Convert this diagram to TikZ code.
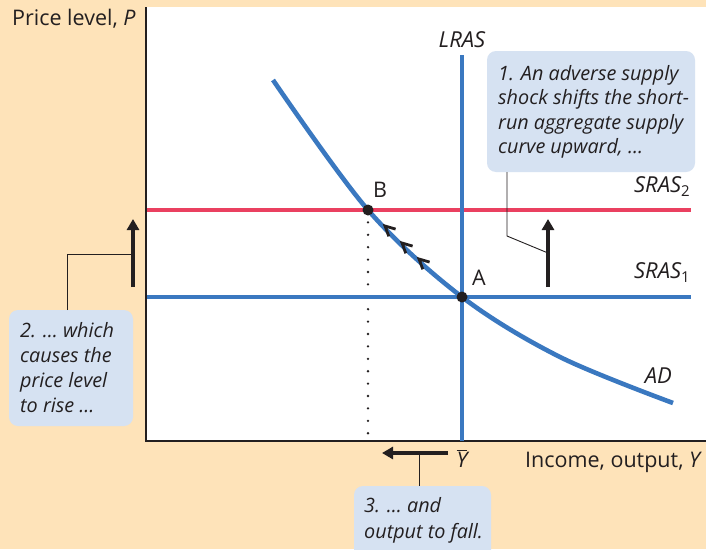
\documentclass[tikz,border=0pt]{standalone}
\usepackage{fontspec}
\setmainfont{Open Sans}
\usetikzlibrary{arrows.meta,calc}
\definecolor{peach}{RGB}{254,227,185}
\definecolor{callblue}{RGB}{214,226,242}
\definecolor{curveblue}{RGB}{58,120,192}
\definecolor{curvered}{RGB}{234,64,96}
\definecolor{ink}{RGB}{35,31,32}
\newcommand{\lowsub}[1]{\raisebox{-4.5pt}{\upshape\fontsize{15}{15}\selectfont #1}}
\tikzset{
  txt/.style={font=\fontsize{21.5}{24}\selectfont, text=ink, inner sep=0pt},
  lbl/.style={txt, font=\fontsize{22}{24}\selectfont\itshape},
  itxt/.style={txt, font=\fontsize{19.8}{24}\selectfont\itshape},
  callout/.style={fill=callblue, draw=none, rounded corners=9pt},
  econline/.style={line width=4.6pt},
  bigarrow/.style={line width=4.4pt, draw=ink, -{Triangle[length=11pt,width=12pt]}},
  leader/.style={line width=0.9pt, draw=ink},
  chev/.style={line width=2.8pt, draw=ink, line join=miter},
  dot/.style={circle, fill=ink, inner sep=0pt, minimum size=11pt},
}
\begin{document}
\begin{tikzpicture}[x=1pt,y=-1pt]
\useasboundingbox (0,0) rectangle (706,549);
\fill[peach] (0,0) rectangle (706,549);
\fill[white] (146,7) rectangle (706,441);
% axes
\coordinate (O) at (146,441);
\coordinate (ytop) at (146,7);
\coordinate (xend) at (706,441);
\draw[line width=1.4pt, ink] (ytop) -- (O) -- (xend);
% axis labels
\node[txt, anchor=base west] (plab) at (12,25) {Price level, \textit{P}};
\node[txt, anchor=base west] (ylab) at (525,467) {Income, output, \textit{Y}};
\node[txt, anchor=base] (ybar) at (462,467) {$\overline{\hbox{\fontsize{21.5}{24}\selectfont\itshape Y}}$};
% points
\coordinate (A) at (462,297);
\coordinate (B) at (368,210);
% dotted line
\coordinate (Bfoot) at (368,440);
\draw[ink, line width=2.6pt, line cap=round, dash pattern=on 0pt off 12.4pt] ($(B)+(0,12.4)$) -- (Bfoot);
% SRAS lines
\coordinate (s1l) at (147,297); \coordinate (s1r) at (691,297);
\coordinate (s2l) at (147,210); \coordinate (s2r) at (691,210);
\draw[econline, curveblue] (s1l) -- (s1r);
\draw[econline, curvered] (s2l) -- (s2r);
% LRAS
\coordinate (ltop) at (462,55); \coordinate (lbot) at (462,441);
\draw[econline, curveblue] (ltop) -- (lbot);
% AD
\draw[econline, curveblue] plot[smooth, tension=0.55] coordinates {(273,80) (368,210) (462,297) (560,357) (673,403)};
% dots
\node[dot] (Bdot) at (B) {};
\node[dot] (Adot) at (A) {};
\node[txt, anchor=base west] (Blab) at (373,197) {B};
\node[txt, anchor=base west] (Alab) at (472,285) {A};
% chevrons along AD
\foreach \x/\y [count=\i] in {385/226, 402/243, 419/259}{
  \coordinate (ch\i) at (\x,\y);
  \draw[chev] ($(ch\i)+(10.6,3.1)$) -- (ch\i) -- ($(ch\i)+(3.8,10.3)$);
}
% curve labels
\node[lbl, anchor=base] (lras) at (462,47) {LRAS};
\node[lbl, anchor=base east] (sras2) at (690,192) {SRAS\lowsub{2}};
\node[lbl, anchor=base east] (sras1) at (690,278) {SRAS\lowsub{1}};
\node[lbl, anchor=base east] (adlab) at (672,383) {AD};
% callout 1
\fill[callout] (487,51) rectangle (695,172);
\coordinate (c1b) at (507,172);
\foreach \t [count=\i] in {{1. An adverse supply}, {shock shifts the short-}, {run aggregate supply}, {curve upward, \ldots}}{
  \node[itxt, anchor=base west] (c1l\i) at (498,{80+24.5*(\i-1)}) {\t};
}
% shift arrow
\coordinate (arA) at (548,287); \coordinate (arB) at (548,219);
\draw[bigarrow] (arA) -- (arB);
\coordinate (c1k) at (507,236); \coordinate (c1e) at (548,253);
\draw[leader] (c1b) -- (c1k) -- (c1e);
% callout 2
\fill[callout] (9,310) rectangle (133,426);
\foreach \t [count=\i] in {{2. \ldots\ which}, {causes the}, {price level}, {to rise \ldots}}{
  \node[itxt, anchor=base west] (c2l\i) at (20,{337+25.3*(\i-1)}) {\t};
}
\coordinate (plA) at (133,287); \coordinate (plB) at (133,219);
\draw[bigarrow] (plA) -- (plB);
\coordinate (c2t) at (67,310); \coordinate (c2k) at (67,254); \coordinate (c2e) at (133,254);
\draw[leader] (c2t) -- (c2k) -- (c2e);
% callout 3
\fill[callout] (354,486) rectangle (491,560);
\foreach \t [count=\i] in {{3. \ldots\ and}, {output to fall.}}{
  \node[itxt, anchor=base west] (c3l\i) at (364,{512+26*(\i-1)}) {\t};
}
\coordinate (yA) at (448,453); \coordinate (yB) at (382,453);
\draw[bigarrow] (yA) -- (yB);
\coordinate (c3t) at (419,486); \coordinate (c3e) at (419,453);
\draw[leader] (c3t) -- (c3e);
\end{tikzpicture}
\end{document}
